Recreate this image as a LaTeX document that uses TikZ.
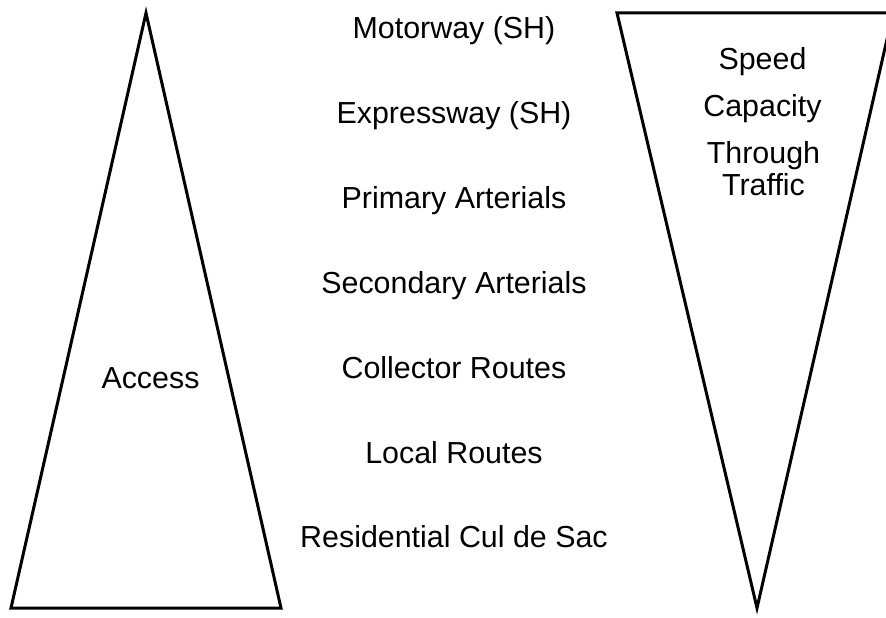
\documentclass[tikz,border=0pt]{standalone}
\usepackage{fontspec}
\setmainfont{Liberation Sans}
\usetikzlibrary{calc}
\tikzset{
	label text/.style = {anchor=base, inner sep=0pt, font=\fontsize{30.4}{32}\selectfont},
	wedge/.style = {draw=black, line width=3pt, line join=miter}
}

\begin{document}
\begin{tikzpicture}[x=1pt,y=-1pt]
	\useasboundingbox (0,0) rectangle (886,618);
	% access triangle, apex up
	\coordinate (AccTop) at (146,13);
	\coordinate (AccLeft) at (11,608);
	\coordinate (AccRight) at (281,608);
	\draw[wedge] (AccTop) -- (AccLeft) -- (AccRight) -- cycle;
	\node[label text] (Access) at (150.5,388) {Access};
	% speed triangle, apex down
	\coordinate (SpdLeft) at (617,13);
	\coordinate (SpdRight) at (893,13);
	\coordinate (SpdTip) at (757,608);
	\draw[wedge] (SpdLeft) -- (SpdRight) -- (SpdTip) -- cycle;
	\node[label text] (Speed) at (762.5,70) {Speed};
	\node[label text] (Capacity) at (762.5,116) {Capacity};
	\node[label text] (Through) at (763.5,163) {Through};
	\node[label text] (Traffic) at (763.5,195) {Traffic};
	% road hierarchy
	\foreach \name/\road [count=\i from 0] in {
		mw/{Motorway (SH)},
		ew/{Expressway (SH)},
		pa/{Primary Arterials},
		sa/{Secondary Arterials},
		cr/{Collector Routes},
		lr/{Local Routes},
		rc/{Residential Cul de Sac}}
		\node[label text] (\name) at (454,{39+84.8*\i}) {\road};
\end{tikzpicture}
\end{document}
